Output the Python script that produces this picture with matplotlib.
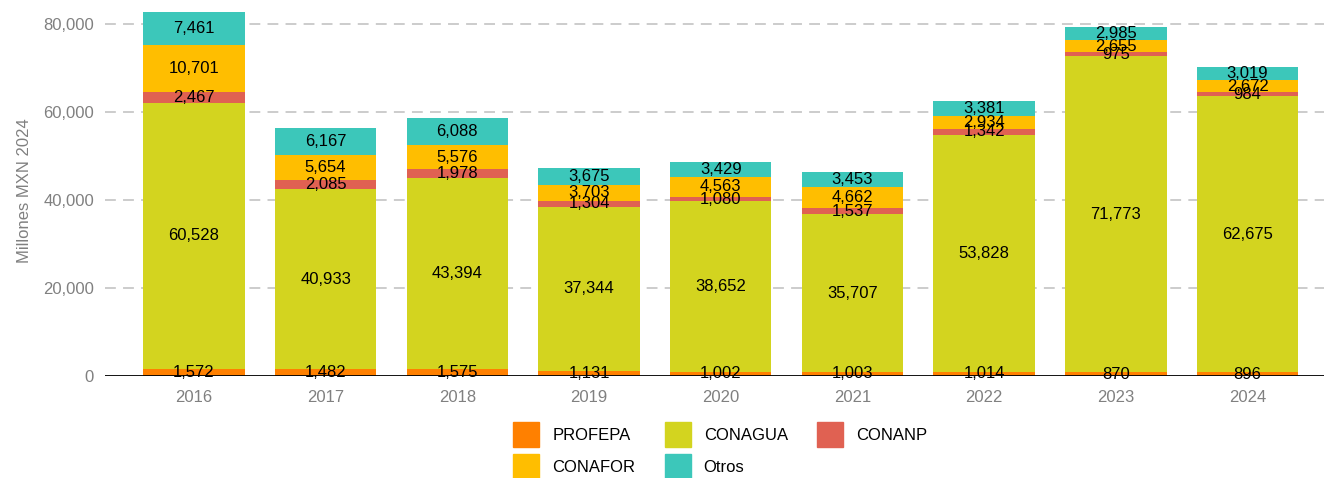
import numpy as np
import matplotlib.pyplot as plt
from matplotlib.patches import Rectangle

plt.rcParams['font.family'] = ['Liberation Sans', 'DejaVu Sans']

years = ['2016', '2017', '2018', '2019', '2020', '2021', '2022', '2023', '2024']
profepa = [1572, 1482, 1575, 1131, 1002, 1003, 1014, 870, 896]
conagua = [60528, 40933, 43394, 37344, 38652, 35707, 53828, 71773, 62675]
conanp = [2467, 2085, 1978, 1304, 1080, 1537, 1342, 975, 984]
conafor = [10701, 5654, 5576, 3703, 4563, 4662, 2934, 2655, 2672]
otros = [7461, 6167, 6088, 3675, 3429, 3453, 3381, 2985, 3019]

names = ['PROFEPA', 'CONAGUA', 'CONANP', 'CONAFOR', 'Otros']
series = [profepa, conagua, conanp, conafor, otros]
colors = ['#FF8000', '#D3D41F', '#E06152', '#FFBE00', '#3CC7BA']

fig = plt.figure(figsize=(13.24, 4.78), dpi=100)
ax = fig.add_axes([0.0793, 0.2134, 0.9207, 0.7761])

x = np.arange(len(years))
bottom = np.zeros(len(years))
for name, vals, c in zip(names, series, colors):
    vals = np.array(vals, dtype=float)
    ax.bar(x, vals, bottom=bottom, width=0.77, color=c, label=name, zorder=2)
    for xi, b, v in zip(x, bottom, vals):
        ax.text(xi, b + v / 2, f'{int(v):,}', ha='center', va='center',
                fontsize=12, color='black', zorder=3)
    bottom += vals

ax.set_xlim(-0.675, 8.58)
ax.set_ylim(0, 84300)
ax.set_yticks([0, 20000, 40000, 60000, 80000])
ax.set_yticklabels(['0', '20,000', '40,000', '60,000', '80,000'])
ax.set_xticks(x)
ax.set_xticklabels(years)
for yv in [20000, 40000, 60000, 80000]:
    ax.axhline(yv, color='#C8C8C8', lw=1.3, ls=(0, (6, 4)), zorder=1)
ax.axhline(0, color='black', lw=1.3, zorder=4)
for s in ax.spines.values():
    s.set_visible(False)
ax.tick_params(axis='both', length=0, labelsize=12, labelcolor='#808080')
ax.tick_params(axis='y', pad=8)
ax.tick_params(axis='x', pad=10)
ax.set_ylabel('Millones MXN 2024', color='#808080', fontsize=12, labelpad=8)

handles = [Rectangle((0, 0), 1, 1, color=c) for c in colors]
order = [0, 3, 1, 4, 2]
fig.legend([handles[i] for i in order], [names[i] for i in order],
           ncol=3, loc='center', bbox_to_anchor=(0.544, 0.0575),
           frameon=False, fontsize=12, handlelength=1.56, handleheight=1.95,
           handletextpad=0.78, columnspacing=1.75, labelspacing=0.4)

fig.savefig('out.png', dpi=100)
